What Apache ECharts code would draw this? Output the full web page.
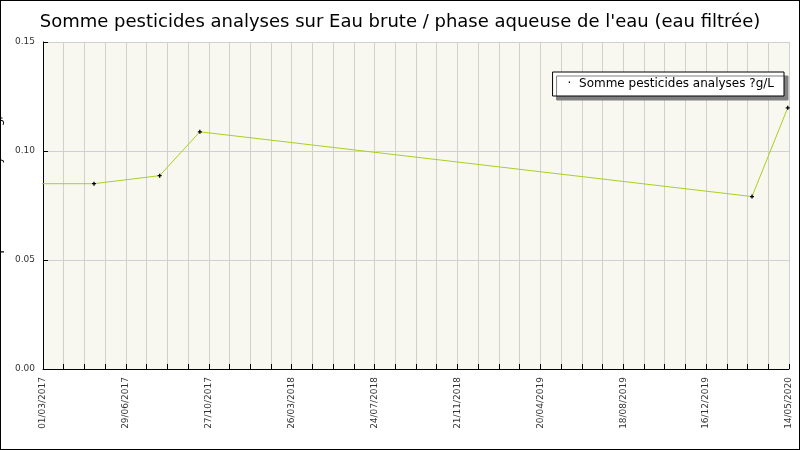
<!DOCTYPE html>
<html><head><meta charset="utf-8">
<script src="https://cdn.jsdelivr.net/npm/echarts@6/dist/echarts.min.js"></script>
<style>html,body{margin:0;padding:0;background:#fff}#c{width:800px;height:450px;box-sizing:border-box;border:1px solid #000}</style>
</head><body><div id="c"></div>
<script>
var tickLabels = ['01/03/2017','29/06/2017','27/10/2017','26/03/2018','24/07/2018','21/11/2018','20/04/2019','18/08/2019','16/12/2019','14/05/2020'];
var dates = ['2017-01-01','2017-05-20','2017-08-31','2017-11-02','2020-03-17','2020-05-12'];
var values = [0.085, 0.085, 0.0887, 0.1088, 0.0791, 0.1198];
var seriesName = 'Somme pesticides analyses ?g/L';
var start = Date.UTC(2017,2,1), span = 1170;
function dayOf(s){var p=s.split('-');return (Date.UTC(+p[0],+p[1]-1,+p[2])-start)/86400000;}
var data = dates.map(function(d,i){return [dayOf(d), values[i]];});
var step = span/36;
var chart = echarts.init(document.getElementById('c'));
chart.setOption({
  animation:false,
  title:{text:'Somme pesticides analyses sur Eau brute / phase aqueuse de l\'eau (eau filtrée)',left:'center',top:7,textStyle:{fontFamily:'DejaVu Sans',fontWeight:'normal',fontSize:18,color:'#000'}},
  grid:{left:42,right:10,top:41,bottom:80,containLabel:false,outerBoundsMode:'none',show:true,backgroundColor:'#f8f8f0',borderWidth:0},
  legend:{data:[{name:seriesName,icon:'path://M0,0h1v1h-1z'}],right:15,top:71,itemWidth:0,itemHeight:0,
    backgroundColor:'#fff',borderColor:'#000',borderWidth:1,padding:[6,10,6,10],shadowColor:'#808080',shadowOffsetX:4,shadowOffsetY:4,shadowBlur:0,
    textStyle:{fontFamily:'DejaVu Sans',fontSize:12,color:'#000'},
    formatter:function(n){return '·  '+n;}},
  xAxis:{type:'value',min:0,max:span,interval:step,
    axisLine:{show:true,lineStyle:{color:'#000'}},axisTick:{show:true,inside:true,length:5,lineStyle:{color:'#000'}},
    splitLine:{show:true,lineStyle:{color:'#d0d0d0'}},
    axisLabel:{rotate:90,fontSize:9,fontFamily:'DejaVu Sans',color:'#333',showMaxLabel:true,
      formatter:function(v){var i=Math.round(v/step);return i%4===0?(tickLabels[i/4]||''):(Math.abs(v-span)<1?tickLabels[9]:'');}}},
  yAxis:{type:'value',min:0,max:0.15,interval:0.05,name:'Somme pesticides analyses ?g/L',nameLocation:'middle',nameGap:28,
    nameTextStyle:{fontFamily:'DejaVu Sans',fontSize:12,color:'#000'},
    axisLine:{show:true,lineStyle:{color:'#000'}},axisTick:{show:true,inside:true,length:5,lineStyle:{color:'#000'}},
    splitLine:{lineStyle:{color:'#d0d0d0'}},
    axisLabel:{fontSize:9,fontFamily:'DejaVu Sans',color:'#333',formatter:function(v){return v.toFixed(2);}}},
  series:[{name:seriesName,type:'line',data:data,clip:true,symbol:'path://M0,1h3v1h-3z M1,0h1v3h-1z',symbolSize:4,
    itemStyle:{color:'#000'},lineStyle:{color:'#a8d020',width:1}}]
});
</script></body></html>
